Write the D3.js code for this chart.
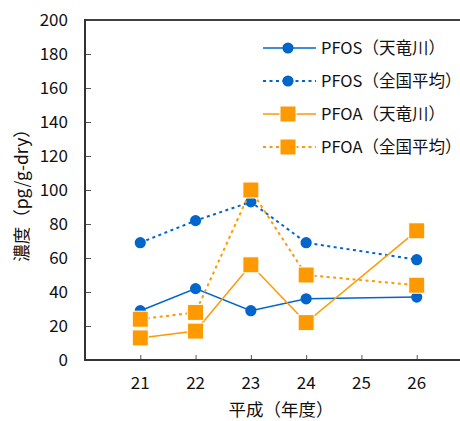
<!DOCTYPE html>
<html><head><meta charset="utf-8">
<script src="https://cdn.jsdelivr.net/npm/d3@7"></script>
<style>body{margin:0;background:#fff}svg{display:block}</style>
</head><body>
<svg id="c" width="460" height="421"></svg>
<script>
const years = [21, 22, 23, 24, 26];
const xTicks = [21, 22, 23, 24, 25, 26];
const yTicks = [0, 20, 40, 60, 80, 100, 120, 140, 160, 180, 200];
const seriesNames = ["PFOS（天竜川）", "PFOS（全国平均）", "PFOA（天竜川）", "PFOA（全国平均）"];
const pfosTenryu = [29, 42, 29, 36, 37];
const pfosNational = [69, 82, 93, 69, 59];
const pfoaTenryu = [13, 17, 56, 22, 76];
const pfoaNational = [24, 28, 100, 50, 44];
const yTitle = "濃度（pg/g-dry）";
const xTitle = "平成（年度）";

const BLUE = "#0066cc", ORANGE = "#ff9900";
const FONT = "'Noto Sans CJK JP', 'Noto Sans', sans-serif";
const series = [
  {name: seriesNames[0], vals: pfosTenryu, color: BLUE, dash: null, marker: "circle"},
  {name: seriesNames[1], vals: pfosNational, color: BLUE, dash: "3,3.5", marker: "circle"},
  {name: seriesNames[2], vals: pfoaTenryu, color: ORANGE, dash: null, marker: "square"},
  {name: seriesNames[3], vals: pfoaNational, color: ORANGE, dash: "3,3.5", marker: "square"}
];

const svg = d3.select("#c").style("font-family", FONT);
const x = d3.scaleLinear().domain([20, 27]).range([85, 472]);
const y = d3.scaleLinear().domain([0, 200]).range([360, 20]);

// frame top
svg.append("line").attr("x1", 85).attr("x2", 460).attr("y1", y(200)).attr("y2", y(200))
  .attr("stroke", "#404040").attr("stroke-width", 2);

const yAxis = svg.append("g").attr("transform", "translate(85,0)")
  .call(d3.axisRight(y).tickValues(yTicks).tickSize(6).tickFormat(""));
yAxis.select(".domain").remove();
yAxis.selectAll(".tick line").attr("stroke", "#555");
yAxis.selectAll(".tick").filter(d => d === 0 || d === 200).remove();
svg.append("line").attr("x1", 85).attr("x2", 85).attr("y1", y(200) - 1).attr("y2", y(0) + 1)
  .attr("stroke", "#333").attr("stroke-width", 2);
svg.append("g").selectAll("text").data(yTicks).join("text")
  .attr("x", 68).attr("y", d => y(d)).attr("dy", "0.36em").attr("text-anchor", "end")
  .attr("font-size", 17).attr("fill", "#111").text(d => d);

const xAxis = svg.append("g").attr("transform", `translate(0,${y(0)})`)
  .call(d3.axisTop(x).tickValues(xTicks).tickSize(5).tickFormat(""));
xAxis.select(".domain").remove();
xAxis.selectAll(".tick line").attr("stroke", "#555");
svg.append("line").attr("x1", 84).attr("x2", 460).attr("y1", y(0)).attr("y2", y(0))
  .attr("stroke", "#333").attr("stroke-width", 2);
svg.append("g").selectAll("text").data(xTicks).join("text")
  .attr("x", d => x(d)).attr("y", 383).attr("dy", "0.36em").attr("text-anchor", "middle")
  .attr("font-size", 17).attr("fill", "#111").text(d => d);

svg.append("text").attr("x", 281).attr("y", 410).attr("dy", "0.36em").attr("text-anchor", "middle")
  .attr("font-size", 17.5).attr("fill", "#111").text(xTitle);
svg.append("text").attr("transform", "translate(22,191) rotate(-90)").attr("dy", "0.36em")
  .attr("text-anchor", "middle").attr("font-size", 17.5).attr("fill", "#111").text(yTitle);

const line = d3.line().x((d, i) => x(years[i])).y(d => y(d));
function drawMarker(g, type, color, cx, cy) {
  if (type === "circle") {
    g.append("circle").attr("cx", cx).attr("cy", cy).attr("r", 5.6).attr("fill", color);
  } else {
    g.append("rect").attr("x", cx - 8).attr("y", cy - 8).attr("width", 16).attr("height", 16)
      .attr("fill", color).attr("stroke", "#fff").attr("stroke-width", 1);
  }
}
series.forEach(s => {
  const g = svg.append("g");
  g.append("path").datum(s.vals).attr("d", line).attr("fill", "none")
    .attr("stroke", s.color).attr("stroke-width", s.dash ? 2 : 1.5)
    .attr("stroke-dasharray", s.dash);
  s.vals.forEach((v, i) => drawMarker(g, s.marker, s.color, x(years[i]), y(v)));
});

// legend
const legY = [48, 81, 114, 147];
series.forEach((s, i) => {
  const g = svg.append("g");
  g.append("line").attr("x1", 263).attr("x2", 316).attr("y1", legY[i]).attr("y2", legY[i])
    .attr("stroke", s.color).attr("stroke-width", s.dash ? 2 : 1.5).attr("stroke-dasharray", s.dash);
  drawMarker(g, s.marker, s.color, 288, legY[i]);
  g.append("text").attr("x", 321).attr("y", legY[i]).attr("dy", "0.36em")
    .attr("font-size", 16.5).attr("fill", "#111").text(s.name);
});
</script>
</body></html>
